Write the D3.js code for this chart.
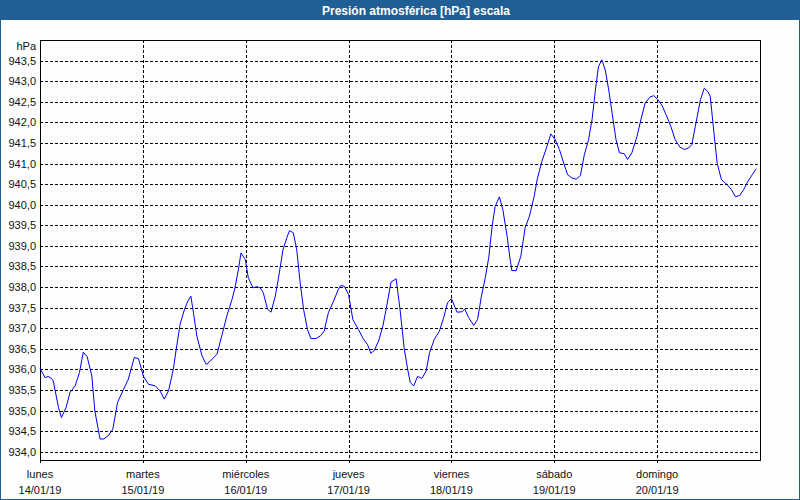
<!DOCTYPE html>
<html><head><meta charset="utf-8">
<script src="https://cdn.jsdelivr.net/npm/d3@7"></script>
<style>
html,body{margin:0;padding:0;background:#fff;}
svg{display:block;}
text{font-family:"Liberation Sans",Arial,sans-serif;}
</style></head>
<body>
<svg id="chart" width="800" height="500"></svg>
<script>
const title = "Presión atmosférica [hPa] escala";
const unitLabel = "hPa";
const dayNames = ["lunes","martes","miércoles","jueves","viernes","sábado","domingo"];
const dayDates = ["14/01/19","15/01/19","16/01/19","17/01/19","18/01/19","19/01/19","20/01/19"];
const yTicks = [934.0,934.5,935.0,935.5,936.0,936.5,937.0,937.5,938.0,938.5,939.0,939.5,940.0,940.5,941.0,941.5,942.0,942.5,943.0,943.5];
// hours since 14/01/19 00:00
const hours = [0,1.2,1.9,2.7,3.1,4.3,5.0,6.1,7.0,8.2,9.2,10.1,11.0,12.1,12.8,14.0,14.9,16.0,17.0,18.1,19.5,20.6,22.0,23.0,
24.1,25.3,26.9,28.0,29.0,30.0,31.1,31.9,32.7,33.6,34.4,35.2,35.8,36.6,37.8,38.8,39.7,41.3,42.4,43.6,44.8,45.5,46.3,46.9,
47.9,48.6,49.7,50.6,51.4,52.1,53.1,53.9,54.9,55.6,56.7,57.6,58.2,59.1,59.9,60.7,61.5,62.4,63.2,64.4,65.5,66.3,67.3,68.5,
69.6,70.2,71.0,72.0,73.0,74.3,75.5,76.4,77.2,78.0,79.0,80.0,80.9,81.9,83.1,84.0,85.0,85.8,86.4,87.2,88.1,89.1,90.1,90.9,
92.0,93.2,94.2,95.1,96.0,96.7,97.3,98.5,99.1,100.0,101.2,102.1,103.0,103.9,104.7,105.5,106.2,107.2,108.0,109.0,109.7,110.1,
111.1,112.2,113.2,114.2,115.3,116.0,117.1,118.3,119.2,120.2,121.2,122.2,123.1,124.1,125.1,126.1,127.0,128.0,128.8,129.6,
130.3,131.1,131.9,132.7,133.5,134.4,135.2,136.3,137.1,138.1,139.3,140.2,141.2,142.3,143.2,144.1,145.1,146.1,147.2,148.2,
149.3,150.4,151.4,152.1,152.9,154.1,155.0,155.8,156.4,157.1,158.0,159.0,160.3,161.3,162.3,163.3,164.2,165.2,166.2,167.1];
const pressure = [936.02,935.80,935.83,935.78,935.72,935.08,934.83,935.08,935.44,935.60,935.92,936.42,936.31,935.84,934.99,934.31,934.31,934.40,934.55,935.20,935.52,935.76,936.29,936.26,
935.84,935.64,935.60,935.48,935.28,935.48,936.00,936.57,937.10,937.42,937.64,937.78,937.38,936.81,936.33,936.12,936.20,936.37,936.81,937.30,937.70,937.98,938.43,938.83,
938.67,938.23,937.98,938.01,937.98,937.86,937.46,937.39,937.78,938.19,938.91,939.20,939.37,939.32,938.91,938.11,937.46,936.97,936.75,936.75,936.82,936.93,937.38,937.66,
937.94,938.04,938.02,937.82,937.21,936.97,936.73,936.61,936.39,936.46,936.69,937.05,937.54,938.12,938.20,937.46,936.49,936.00,935.68,935.60,935.83,935.78,935.96,936.41,
936.73,936.93,937.26,937.62,937.72,937.54,937.39,937.40,937.47,937.26,937.07,937.21,937.78,938.23,938.71,939.48,939.96,940.19,939.88,939.23,938.67,938.40,
938.40,938.75,939.44,939.72,940.20,940.61,941.05,941.42,941.72,941.58,941.34,941.01,940.73,940.65,940.62,940.71,941.21,941.58,942.06,942.79,
943.35,943.52,943.27,942.79,942.22,941.58,941.26,941.24,941.10,941.26,941.66,942.06,942.47,942.61,942.65,942.56,942.42,942.18,941.90,941.58,
941.40,941.34,941.38,941.46,941.90,942.55,942.83,942.75,942.63,941.90,941.01,940.61,940.49,940.37,940.19,940.23,940.37,940.57,940.73,940.87];

const W = 800, H = 500;
const plot = {left:40, top:40, right:760, bottom:460};
const svg = d3.select("#chart");

svg.append("rect").attr("x",0).attr("y",0).attr("width",W).attr("height",H).attr("fill","#fdfefd");
// window border + title bar
svg.append("rect").attr("x",0.5).attr("y",0.5).attr("width",W-1).attr("height",H-1)
  .attr("fill","none").attr("stroke","#1f5f96").attr("stroke-width",1);
svg.append("rect").attr("x",0).attr("y",0).attr("width",W).attr("height",20).attr("fill","#1f5f96");
svg.append("text").attr("x",416).attr("y",14.5).attr("text-anchor","middle")
  .attr("fill","#fff").attr("font-weight","bold").attr("font-size","12px").text(title);

const t0 = new Date(2019,0,14);
const x = d3.scaleTime().domain([t0, new Date(2019,0,21)]).range([plot.left, plot.right]);
const y = d3.scaleLinear().domain([933.8, 944.0]).range([plot.bottom, plot.top]);
const data = hours.map((h,i)=>({t:new Date(t0.getTime()+h*3600000), v:pressure[i]}));
const fmt = v => d3.format(".1f")(v).replace(".",",");

// horizontal grid
const g = svg.append("g");
g.selectAll("line.hg").data(yTicks).join("line")
  .attr("x1",plot.left).attr("x2",plot.right)
  .attr("y1",d=>Math.round(y(d))+0.5).attr("y2",d=>Math.round(y(d))+0.5)
  .attr("stroke","#000").attr("stroke-dasharray","3,2").attr("shape-rendering","crispEdges");
// vertical grid
const days = d3.range(7).map(i=>d3.timeDay.offset(t0,i));
g.selectAll("line.vg").data(days).join("line")
  .attr("x1",d=>Math.round(x(d))+0.5).attr("x2",d=>Math.round(x(d))+0.5)
  .attr("y1",plot.top).attr("y2",plot.bottom+4)
  .attr("stroke","#000").attr("stroke-dasharray","3,2").attr("shape-rendering","crispEdges");

// frame
svg.append("rect").attr("x",plot.left+0.5).attr("y",plot.top+0.5)
  .attr("width",plot.right-plot.left).attr("height",plot.bottom-plot.top)
  .attr("fill","none").attr("stroke","#000").attr("shape-rendering","crispEdges");

// y labels
svg.selectAll("text.yl").data(yTicks).join("text")
  .attr("x",36).attr("y",d=>y(d)+4).attr("text-anchor","end")
  .attr("font-size","11px").attr("fill","#111").text(fmt);
svg.append("text").attr("x",36).attr("y",50).attr("text-anchor","end")
  .attr("font-size","11px").attr("fill","#111").text(unitLabel);

// x labels
svg.selectAll("text.xn").data(days).join("text")
  .attr("x",d=>x(d)).attr("y",478).attr("text-anchor","middle")
  .attr("font-size","11px").attr("fill","#111").text((d,i)=>dayNames[i]);
svg.selectAll("text.xd").data(days).join("text")
  .attr("x",d=>x(d)).attr("y",494).attr("text-anchor","middle")
  .attr("font-size","11px").attr("fill","#111").text((d,i)=>dayDates[i]);

// line
svg.append("path").datum(data)
  .attr("d", d3.line().x(d=>x(d.t)).y(d=>y(d.v)))
  .attr("fill","none").attr("stroke","#0000ee").attr("stroke-width",1);
</script>
</body></html>
